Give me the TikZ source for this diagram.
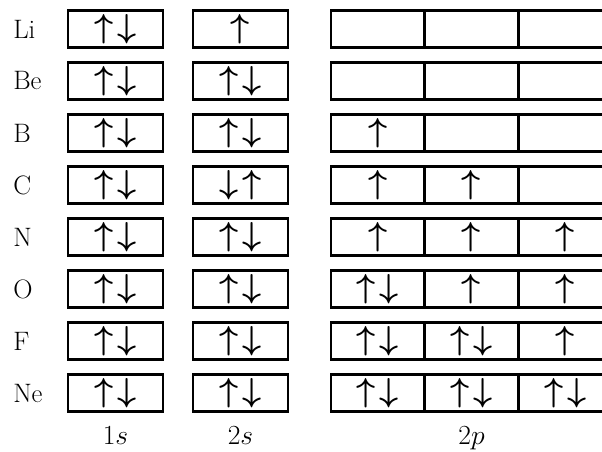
\documentclass[tikz,border=0pt]{standalone}
\usetikzlibrary{positioning}

\newcommand\ud{\(\uparrow\mkern2mu\downarrow\)}
\newcommand\du{\(\downarrow\mkern2mu\uparrow\)}
\newcommand\up{\(\uparrow\)}
\newcommand\noorb{}

\tikzset{
  orb/.style={draw,line width=1.9pt,minimum height=27.75pt,inner sep=0pt,font=\fontsize{26}{28}\selectfont\boldmath},
  sorb/.style={orb,minimum width=71.25pt},
  porb/.style={orb,minimum width=70.3pt},
  elem/.style={anchor=west,inner sep=0pt,font=\fontsize{20}{22}\selectfont},
  shell/.style={inner sep=0pt,font=\fontsize{20}{22}\selectfont}
}

\begin{document}
\begin{tikzpicture}[x=0.75pt,y=-0.75pt]
\useasboundingbox (0,0) rectangle (602,452);
\clip (0,0) rectangle (602,452);
% one row per element: 1s, 2s, then the three 2p orbitals
\foreach \el/\one/\two/\pa/\pb/\pc [count=\i from 0] in {
    Li/\ud/\up/\noorb/\noorb/\noorb,
    Be/\ud/\ud/\noorb/\noorb/\noorb,
    B/\ud/\ud/\up/\noorb/\noorb,
    C/\ud/\du/\up/\up/\noorb,
    N/\ud/\ud/\up/\up/\up,
    O/\ud/\ud/\ud/\up/\up,
    F/\ud/\ud/\ud/\ud/\up,
    Ne/\ud/\ud/\ud/\ud/\ud}{
  \node[elem] (\el) at (13,29+52*\i) {\el};
  \node[sorb] (\el-1s) at (115.5,29+52*\i) {\one};
  \node[sorb] (\el-2s) at (240.5,29+52*\i) {\two};
  \node[porb] (\el-2pa) at (377.8,29+52*\i) {\pa};
  \node[porb] (\el-2pb) at (471.5,29+52*\i) {\pb};
  \node[porb] (\el-2pc) at (565.2,29+52*\i) {\pc};
}
\node[shell,below=10pt of Ne-1s] (l1s) {\(1s\)};
\node[shell,below=10pt of Ne-2s] (l2s) {\(2s\)};
\node[shell,below=10pt of Ne-2pb] (l2p) {\(2p\)};
\end{tikzpicture}
\end{document}
